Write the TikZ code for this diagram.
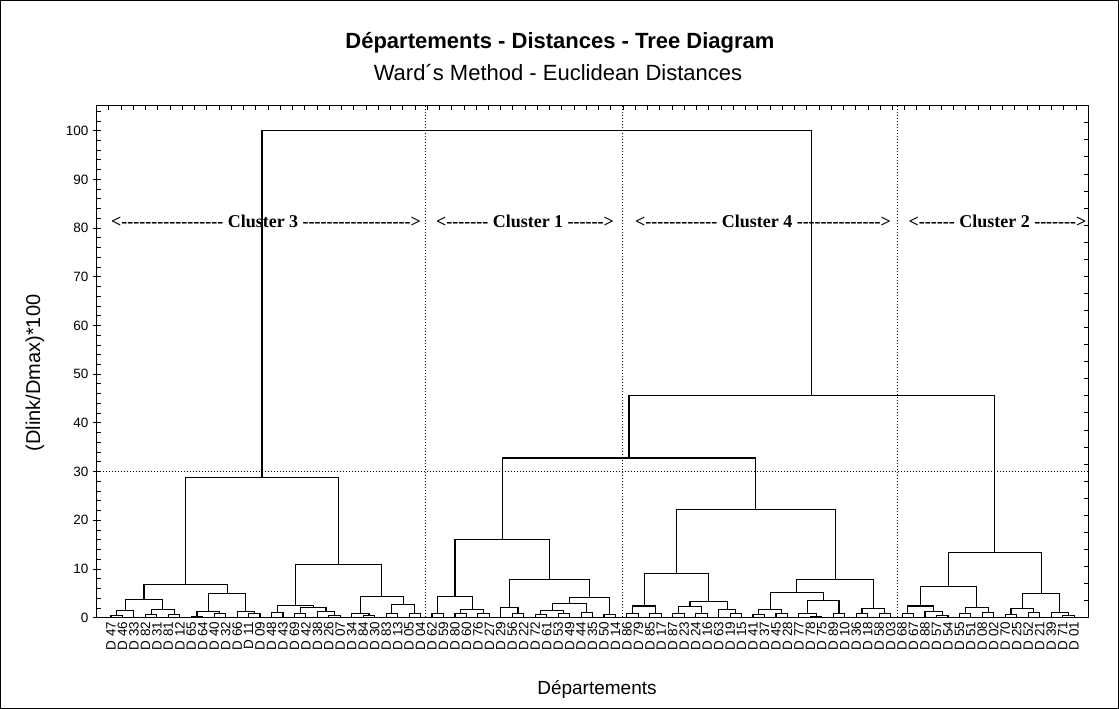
\documentclass[tikz,border=0pt]{standalone}
\usepackage{fontspec}
\setmainfont{Liberation Sans}
\newfontfamily\timesb{Liberation Serif}
\usetikzlibrary{calc}
\newcommand\mrg[4]{%
  \path ($(#2)!0.5!(#3)$) coordinate (tmpA);
  \coordinate (tmpB) at (0,#4);
  \coordinate (#1) at (tmpA |- tmpB);
  \draw[dend] (#2) |- (#1) -| (#3);
}
\newcommand\dsh[1]{\foreach \zz in {1,...,#1}{-\kern0pt}}
\begin{document}
\begin{tikzpicture}[x=1pt,y=-1pt,
  dend/.style={line width=1.1pt, line join=miter},
  frame/.style={line width=1.1pt},
  tick/.style={line width=0.9pt},
  dotline/.style={line width=0.9pt, dash pattern=on 1pt off 2pt},
  leaflab/.style={rotate=90, anchor=east, inner sep=0pt, font=\fontsize{13.5}{14}\selectfont},
  clab/.style={font=\timesb\bfseries\fontsize{18}{20}\selectfont, inner sep=0pt},
  ticklab/.style={anchor=east, inner sep=0pt, font=\fontsize{13.5}{14}\selectfont}]
\useasboundingbox (0,0) rectangle (1119,709);
\draw[line width=1pt] (0.5,0.5) rectangle (1118.5,708.5);
% titles
\node[font=\bfseries\fontsize{22}{26}\selectfont] (title) at (560,43) {Départements - Distances - Tree Diagram};
\node[font=\fontsize{22}{26}\selectfont] (subtitle) at (558,73) {Ward´s Method - Euclidean Distances};
\node[rotate=90, font=\fontsize{20}{24}\selectfont] (ylab) at (35,373) {(Dlink/Dmax)*100};
\node[font=\fontsize{19}{22}\selectfont] (xlab) at (597,689) {Départements};
% dotted reference lines
\draw[dotline] (425.7,105.7) -- (425.7,617.7);
\draw[dotline] (622.5,105.7) -- (622.5,617.7);
\draw[dotline] (897,105.7) -- (897,617.7);
\draw[dotline] (96.7,471.6) -- (1088.3,471.6);
% frame
\draw[frame] (96.7,105.7) rectangle (1088.3,617.7);
% left axis
\foreach \v in {0,10,...,100}{
  \draw[tick] (92.7,{617.7-4.87*\v}) -- (100.7,{617.7-4.87*\v});
  \node[ticklab] (yl\v) at (88.5,{617.7-4.87*\v}) {\v};
}
\foreach \v in {2,4,...,104}
  \draw[tick] (96.7,{617.7-4.87*\v}) -- (100.7,{617.7-4.87*\v});
% top and right ticks
\foreach \k in {1,...,80}
  \draw[tick] ({96.7+\k*12.242},105.7) -- ({96.7+\k*12.242},109.7);
\foreach \k in {1,...,29}
  \draw[tick] (1088.3,{617.7-\k*17.067}) -- (1084.3,{617.7-\k*17.067});
% cluster labels
\node[clab] (k3) at (266,221) {<\dsh{17} Cluster 3 \dsh{18}>};
\node[clab] (k1) at (525,221) {<\dsh{7} Cluster 1 \dsh{6}>};
\node[clab] (k4) at (763,221) {<\dsh{12} Cluster 4 \dsh{14}>};
\node[clab] (k2) at (997.5,221) {<\dsh{6} Cluster 2 \dsh{7}>};
% dendrogram
\begin{scope}[shift={(111,617.7)}, x=11.465pt, y=4.87pt]
\foreach \i in {0,...,84} \coordinate (L\i) at (\i,0);
\foreach \lab [count=\i from 0] in {47,46,33,82,31,81,12,65,64,40,32,66,11,09,48,43,69,42,38,26,07,34,84,30,83,13,05,04,62,59,80,60,76,27,29,56,22,72,61,53,49,44,35,50,14,86,79,85,17,87,23,24,16,63,19,15,41,37,45,28,77,78,75,89,10,36,18,58,03,68,67,88,57,54,55,51,08,02,70,25,52,21,39,71,01}
  \node[leaflab] (t\i) at (\i,-0.8) {D \lab};
% cluster 3
\mrg{a1}{L0}{L1}{0.5}
\mrg{a2}{a1}{L2}{1.4}
\mrg{a3}{L3}{L4}{0.7}
\mrg{a4}{L5}{L6}{0.7}
\mrg{a5}{a3}{a4}{1.6}
\mrg{a6}{a2}{a5}{3.8}
\mrg{a7}{L7}{L8}{0.3}
\mrg{a8}{L9}{L10}{0.9}
\mrg{a9}{a7}{a8}{1.2}
\mrg{a10}{L12}{L13}{0.8}
\mrg{a11}{L11}{a10}{1.2}
\mrg{a12}{a9}{a11}{4.9}
\mrg{a13}{a6}{a12}{6.8}
\mrg{a14}{L14}{L15}{1.0}
\mrg{a15}{L16}{L17}{0.9}
\mrg{a16}{L19}{L20}{0.4}
\mrg{a17}{L18}{a16}{1.2}
\mrg{a18}{a15}{a17}{2.1}
\mrg{a19}{a14}{a18}{2.5}
\mrg{a20}{L22}{L23}{0.5}
\mrg{a21}{L21}{a20}{0.9}
\mrg{a22}{L24}{L25}{0.9}
\mrg{a23}{L26}{L27}{0.9}
\mrg{a24}{a22}{a23}{2.7}
\mrg{a25}{a21}{a24}{4.3}
\mrg{a26}{a19}{a25}{11.0}
\mrg{C3}{a13}{a26}{28.7}
% cluster 1
\mrg{b1}{L28}{L29}{0.9}
\mrg{b2}{L30}{L31}{0.9}
\mrg{b3}{L32}{L33}{0.9}
\mrg{b4}{b2}{b3}{1.6}
\mrg{b5}{b1}{b4}{4.3}
\mrg{b6}{L35}{L36}{0.9}
\mrg{b7}{L34}{b6}{2.1}
\mrg{b8}{L37}{L38}{0.7}
\mrg{b9}{L39}{L40}{0.9}
\mrg{b10}{b8}{b9}{1.4}
\mrg{b11}{L41}{L42}{1.1}
\mrg{b12}{b10}{b11}{3.0}
\mrg{b13}{L43}{L44}{0.6}
\mrg{b14}{b12}{b13}{4.1}
\mrg{b15}{b7}{b14}{7.9}
\mrg{C1}{b5}{b15}{16.0}
% cluster 4
\mrg{c1}{L45}{L46}{0.9}
\mrg{c2}{L47}{L48}{0.9}
\mrg{c3}{c1}{c2}{2.4}
\mrg{c4}{L49}{L50}{0.9}
\mrg{c5}{L51}{L52}{0.9}
\mrg{c6}{c4}{c5}{2.3}
\mrg{c7}{L54}{L55}{0.9}
\mrg{c8}{L53}{c7}{1.7}
\mrg{c9}{c6}{c8}{3.3}
\mrg{c10}{c3}{c9}{9.0}
\mrg{c11}{L56}{L57}{0.7}
\mrg{c12}{L58}{L59}{0.9}
\mrg{c13}{c11}{c12}{1.7}
\mrg{c14}{L61}{L62}{0.2}
\mrg{c15}{L60}{c14}{0.9}
\mrg{c16}{L63}{L64}{0.9}
\mrg{c17}{c15}{c16}{3.5}
\mrg{c18}{c13}{c17}{5.1}
\mrg{c19}{L65}{L66}{0.9}
\mrg{c20}{L67}{L68}{0.9}
\mrg{c21}{c19}{c20}{1.9}
\mrg{c22}{c18}{c21}{7.8}
\mrg{C4}{c10}{c22}{22.2}
% cluster 2
\mrg{d1}{L69}{L70}{0.9}
\mrg{d2}{L72}{L73}{0.5}
\mrg{d3}{L71}{d2}{1.2}
\mrg{d4}{d1}{d3}{2.4}
\mrg{d5}{L74}{L75}{0.9}
\mrg{d6}{L76}{L77}{1.1}
\mrg{d7}{d5}{d6}{2.1}
\mrg{d8}{d4}{d7}{6.4}
\mrg{d9}{L78}{L79}{0.7}
\mrg{d10}{L80}{L81}{1.1}
\mrg{d11}{d9}{d10}{1.8}
\mrg{d12}{L83}{L84}{0.4}
\mrg{d13}{L82}{d12}{1.1}
\mrg{d14}{d11}{d13}{4.9}
\mrg{C2}{d8}{d14}{13.3}
% upper merges
\mrg{C14}{C1}{C4}{32.8}
\mrg{C142}{C14}{C2}{45.7}
\mrg{root}{C3}{C142}{100}
\end{scope}
\end{tikzpicture}
\end{document}
